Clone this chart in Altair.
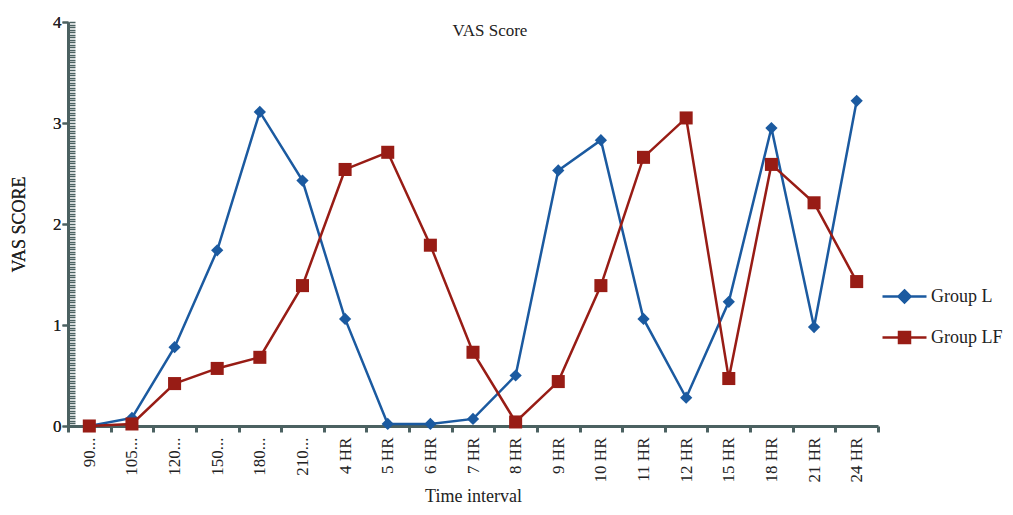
import altair as alt
import pandas as pd

times = ["90...", "105...", "120...", "150...", "180...", "210...", "4 HR", "5 HR", "6 HR",
         "7 HR", "8 HR", "9 HR", "10 HR", "11 HR", "12 HR", "15 HR", "18 HR", "21 HR", "24 HR"]
group_l = [0.0, 0.08, 0.78, 1.74, 3.11, 2.43, 1.06, 0.02, 0.02, 0.07, 0.50, 2.53, 2.83,
           1.06, 0.28, 1.23, 2.95, 0.98, 3.22]
group_lf = [0.0, 0.02, 0.42, 0.57, 0.68, 1.39, 2.54, 2.71, 1.79, 0.73, 0.04, 0.44, 1.39,
            2.66, 3.05, 0.47, 2.59, 2.21, 1.43]
groups = ["Group L", "Group LF"]
colors = ["#1b5aa0", "#981c15"]
minor_ticks = [round(i * 0.025, 3) for i in range(161)]

rows = []
for t, a, b in zip(times, group_l, group_lf):
    rows.append({"time": t, "group": groups[0], "value": a})
    rows.append({"time": t, "group": groups[1], "value": b})
df = pd.DataFrame(rows)

FONT = "Liberation Serif"
AXC = "#4b6161"

xaxis = alt.Axis(title="Time interval", labelAngle=270, labelAlign="right",
                 labelBaseline="middle", labelFontSize=17, labelFont=FONT,
                 labelColor="#222222", labelPadding=5, tickBand="extent",
                 tickSize=6, tickWidth=3, tickColor=AXC, domainColor=AXC,
                 domainWidth=3, titleFont=FONT, titleFontSize=18,
                 titleFontWeight="normal", titleColor="#222222", titlePadding=6,
                 grid=False)
xscale = alt.Scale(type="band", paddingInner=0, paddingOuter=0)


def xenc():
    return alt.X("time:N", sort=times, scale=xscale, axis=xaxis)


yscale = alt.Scale(domain=[0, 4], nice=False)
yaxis_main = alt.Axis(title="VAS SCORE", values=[0, 1, 2, 3, 4], labelFontSize=17,
                      labelFont=FONT, labelColor="#222222", labelPadding=1, tickSize=6,
                      tickWidth=2, tickColor=AXC, domainColor=AXC, domainWidth=3,
                      titleFont=FONT, titleFontSize=18, titleFontWeight="normal",
                      titleColor="#222222", titlePadding=24, grid=False, orient="left")
yaxis_minor = alt.Axis(title=None, values=minor_ticks, labels=False, domain=False,
                       tickSize=6, tickWidth=1.5, tickColor=AXC, offset=-7, grid=False,
                       orient="left")

base = alt.Chart(df)

line_l = base.transform_filter(alt.datum.group == groups[0]).mark_line(
    color=colors[0], strokeWidth=2.5,
    point=alt.OverlayMarkDef(shape="diamond", size=150, filled=True, color=colors[0])
).encode(x=xenc(), y=alt.Y("value:Q", scale=yscale, axis=yaxis_main))

line_lf = base.transform_filter(alt.datum.group == groups[1]).mark_line(
    color=colors[1], strokeWidth=2.5,
    point=alt.OverlayMarkDef(shape="square", size=170, filled=True, color=colors[1])
).encode(x=xenc(), y=alt.Y("value:Q", scale=yscale, axis=yaxis_main))

leg_paths = ["M-2.2,0H2.2M0,-0.6L0.6,0L0,0.6L-0.6,0Z",
             "M-2.2,0H2.2M-0.55,-0.55H0.55V0.55H-0.55Z"]
legend = alt.Legend(title=None, orient="none", legendX=825, legendY=263,
                    labelFont=FONT, labelFontSize=18, labelColor="#222222",
                    symbolSize=400, symbolStrokeWidth=2.5, rowPadding=18, labelOffset=15)
legend_layer = base.transform_filter("false").mark_point(filled=True, strokeWidth=2.5, opacity=1).encode(
    x=xenc(),
    y=alt.Y("value:Q", scale=yscale, axis=yaxis_minor),
    fill=alt.Fill("group:N", scale=alt.Scale(domain=groups, range=colors), legend=legend),
    stroke=alt.Stroke("group:N", scale=alt.Scale(domain=groups, range=colors), legend=legend),
    shape=alt.Shape("group:N", scale=alt.Scale(domain=groups, range=leg_paths), legend=legend),
)

chart = alt.layer(legend_layer, line_l, line_lf).resolve_axis(y="independent").properties(
    width=810, height=404,
    title=alt.TitleParams("VAS Score", font=FONT, fontSize=17, fontWeight="normal",
                          color="#222222", anchor="middle", dx=17, dy=31),
    autosize=alt.AutoSizeParams(type="none"),
    padding={"left": 60, "top": 14, "right": 127, "bottom": 81},
).configure_view(stroke=None)

chart.save("out.html", embed_options={"renderer": "svg", "actions": False})
